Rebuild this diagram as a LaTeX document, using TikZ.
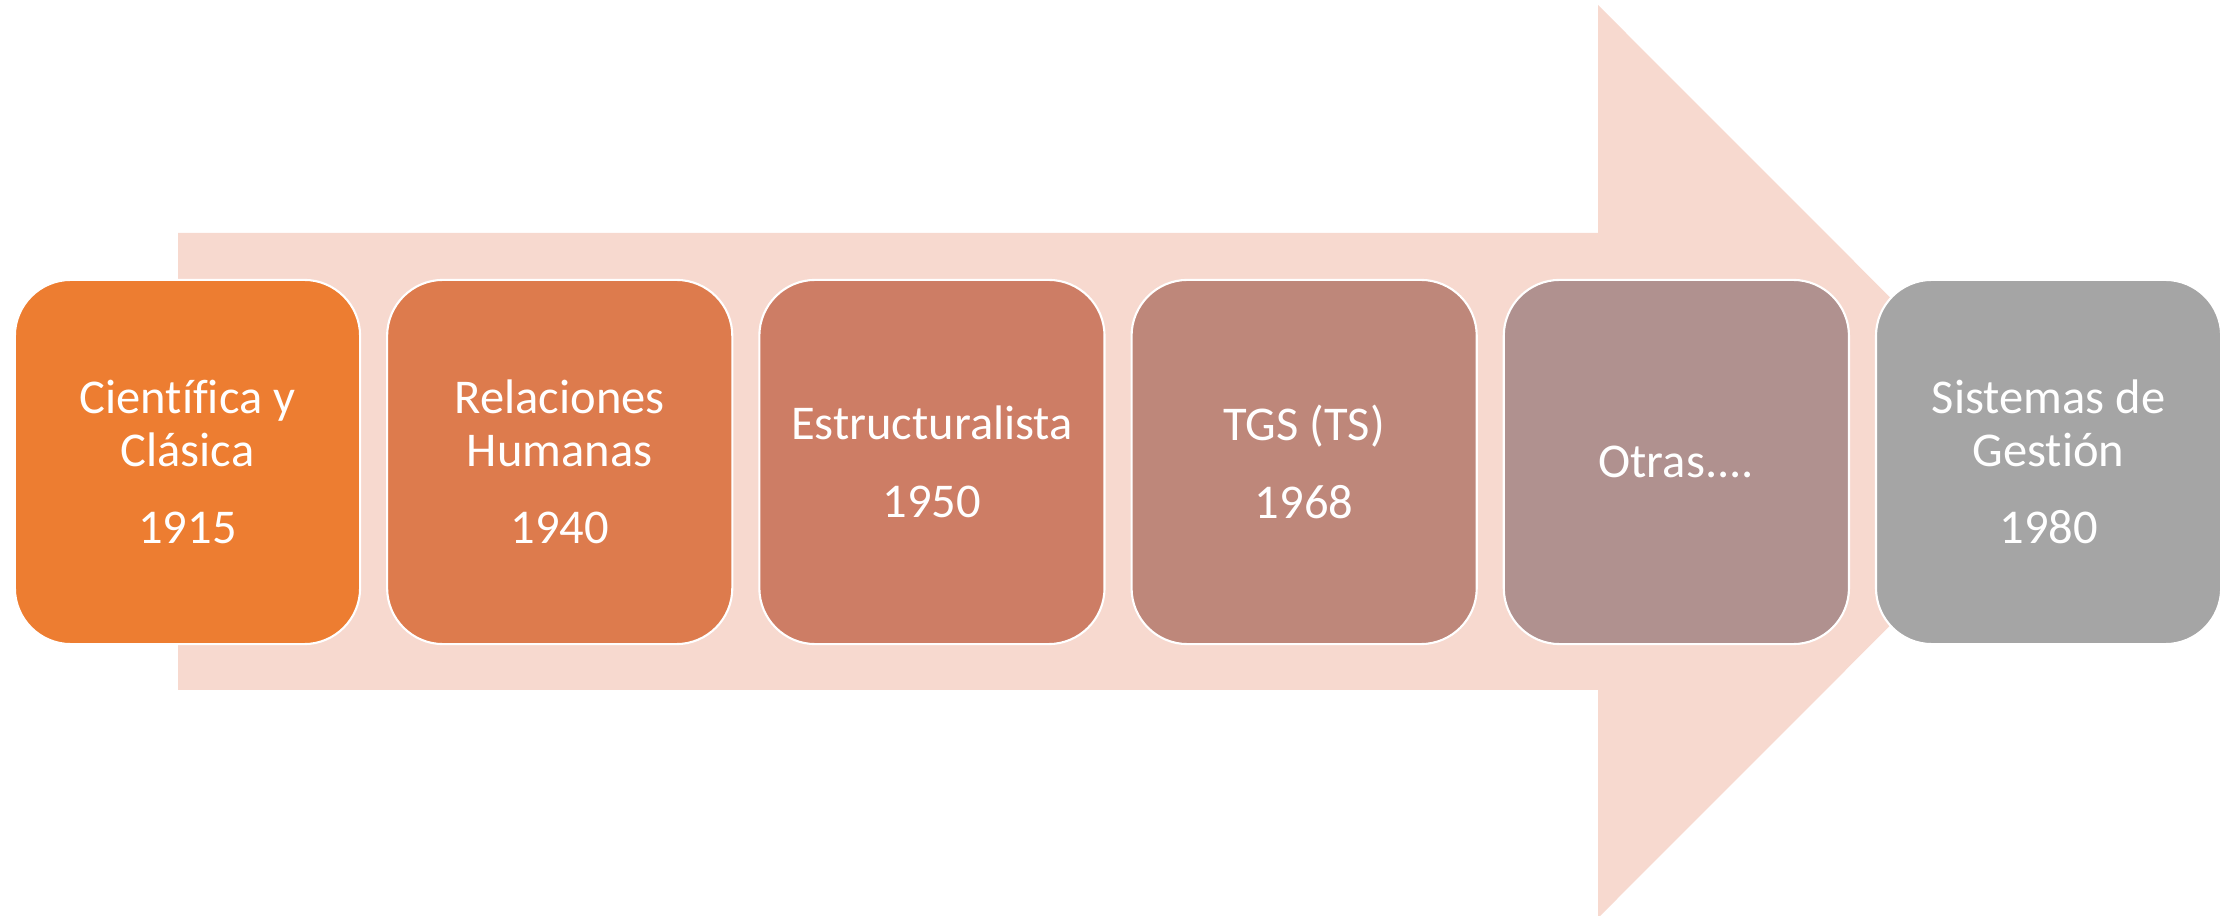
\documentclass[tikz,border=0pt]{standalone}
\usepackage{fontspec}
\setmainfont{Carlito}[Ligatures=NoCommon]
\usetikzlibrary{positioning}

\definecolor{flecha}{HTML}{F7D9CF}
\definecolor{etapa1}{HTML}{ED7D31}
\definecolor{etapa2}{HTML}{DD7B4D}
\definecolor{etapa3}{HTML}{CD7D65}
\definecolor{etapa4}{HTML}{BE877A}
\definecolor{etapa5}{HTML}{B0918F}
\definecolor{etapa6}{HTML}{A5A5A5}

\tikzset{
  etapa/.style={draw=white, line width=0.6pt, rounded corners=0.56cm,
    minimum width=3.45cm, minimum height=3.64cm, inner sep=0pt, outer sep=0pt,
    align=center, text=white, font=\fontsize{13.8}{15}\selectfont}
}

\begin{document}
\begin{tikzpicture}[x=0.01cm,y=-0.01cm, node distance=0.27cm]
                \useasboundingbox (0,0) rectangle (2233,916);

                % flecha de fondo
                \fill[flecha] (178,233) -- (1598,233) -- (1598,5) -- (2054,461.5)
                    -- (1598,918) -- (1598,690) -- (178,690) -- cycle;

                % etapas
                \node (cientifica) at (187.5,462) [etapa, fill=etapa1] {Científica y\\Clásica\\[7pt]1915};
                \node (relaciones) [etapa, fill=etapa2, right=of cientifica] {Relaciones\\Humanas\\[7pt]1940};
                \node (estructural) [etapa, fill=etapa3, right=of relaciones] {Estructuralista\\[7pt]1950};
                \node (tgs) [etapa, fill=etapa4, right=of estructural] {TGS (TS)\\[7pt]1968};
                \node (otras) [etapa, fill=etapa5, right=of tgs] {Otras....};
                \node (gestion) [etapa, fill=etapa6, right=of otras] {Sistemas de\\Gestión\\[7pt]1980};
\end{tikzpicture}
\end{document}
